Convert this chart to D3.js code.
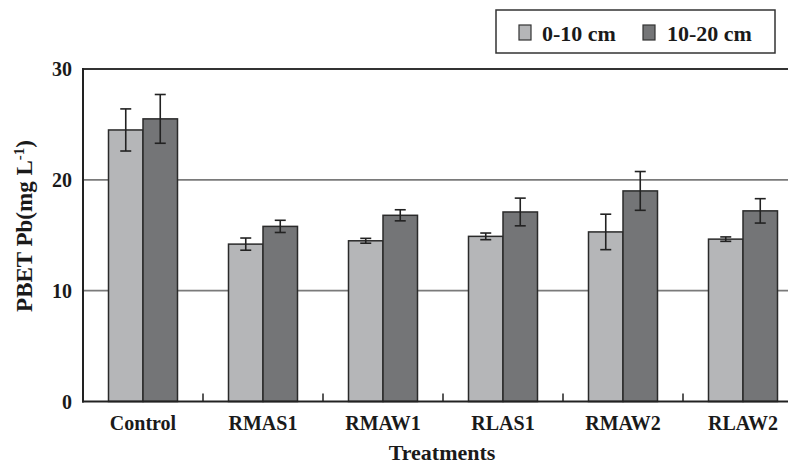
<!DOCTYPE html>
<html>
<head>
<meta charset="utf-8">
<script src="https://cdn.jsdelivr.net/npm/d3@7/dist/d3.min.js"></script>
<style>
  html, body { margin: 0; padding: 0; background: #fff; }
  svg { display: block; }
  text { font-family: "Liberation Serif", "Times New Roman", serif; font-weight: bold; fill: #1a1a1a; }
</style>
</head>
<body>
<svg id="chart" width="788" height="466"></svg>
<script>
const categories = ["Control", "RMAS1", "RMAW1", "RLAS1", "RMAW2", "RLAW2"];
const seriesNames = ["0-10 cm", "10-20 cm"];
const values0to10 = [24.5, 14.2, 14.5, 14.9, 15.3, 14.65];
const errors0to10 = [1.9, 0.55, 0.22, 0.3, 1.6, 0.2];
const values10to20 = [25.5, 15.8, 16.8, 17.1, 19.0, 17.2];
const errors10to20 = [2.2, 0.55, 0.5, 1.25, 1.75, 1.1];
const yTicks = [0, 10, 20, 30];
const colors = ["#b5b6b8", "#747577"];

const svg = d3.select("#chart");
const left = 83, bandW = 120;
const x = d3.scaleBand().domain(categories).range([left, left + bandW * categories.length]).padding(0);
const y = d3.scaleLinear().domain([0, 30]).range([401.5, 69]);
const barW = 34.5;

// gridlines
svg.append("g").selectAll("line").data([10, 20]).join("line")
  .attr("x1", left).attr("x2", 788)
  .attr("y1", d => y(d)).attr("y2", d => y(d))
  .attr("stroke", "#7a7a7a").attr("stroke-width", 1.6);
// top frame line
svg.append("line").attr("x1", left).attr("x2", 788).attr("y1", y(30)).attr("y2", y(30))
  .attr("stroke", "#333").attr("stroke-width", 2);

const series = [
  {vals: values0to10, errs: errors0to10, color: colors[0], off: -barW},
  {vals: values10to20, errs: errors10to20, color: colors[1], off: 0}
];

series.forEach(s => {
  const g = svg.append("g");
  g.selectAll("rect").data(categories).join("rect")
    .attr("x", (c) => x(c) + x.bandwidth() / 2 + s.off)
    .attr("y", (c, i) => y(s.vals[i]))
    .attr("width", barW)
    .attr("height", (c, i) => y(0) - y(s.vals[i]))
    .attr("fill", s.color).attr("stroke", "#2a2a2a").attr("stroke-width", 1.5);
});

series.forEach(s => {
  const g = svg.append("g").attr("stroke", "#222").attr("stroke-width", 1.6);
  categories.forEach((c, i) => {
    const cx = x(c) + x.bandwidth() / 2 + s.off + barW / 2;
    const hi = y(s.vals[i] + s.errs[i]), lo = y(s.vals[i] - s.errs[i]);
    g.append("line").attr("x1", cx).attr("x2", cx).attr("y1", hi).attr("y2", lo);
    g.append("line").attr("x1", cx - 5.5).attr("x2", cx + 5.5).attr("y1", hi).attr("y2", hi);
    g.append("line").attr("x1", cx - 5.5).attr("x2", cx + 5.5).attr("y1", lo).attr("y2", lo);
  });
});

// x axis line with upward boundary ticks
svg.append("line").attr("x1", left - 1).attr("x2", 788).attr("y1", y(0)).attr("y2", y(0))
  .attr("stroke", "#222").attr("stroke-width", 2);
svg.append("g").selectAll("line").data(categories.slice(1)).join("line")
  .attr("x1", d => x(d)).attr("x2", d => x(d))
  .attr("y1", y(0)).attr("y2", y(0) - 8)
  .attr("stroke", "#222").attr("stroke-width", 1.5);

// y axis line
svg.append("line").attr("x1", left).attr("x2", left).attr("y1", y(30) - 1).attr("y2", y(0) + 1)
  .attr("stroke", "#222").attr("stroke-width", 2);

// y tick labels
svg.append("g").selectAll("text").data(yTicks).join("text")
  .attr("x", 72).attr("y", d => y(d)).attr("dy", "0.35em")
  .attr("text-anchor", "end").attr("font-size", 20).text(d => d);

// category labels
svg.append("g").selectAll("text").data(categories).join("text")
  .attr("x", d => x(d) + x.bandwidth() / 2).attr("y", 430)
  .attr("text-anchor", "middle").attr("font-size", 20).text(d => d);

// x title
svg.append("text").attr("x", 442).attr("y", 460).attr("text-anchor", "middle")
  .attr("font-size", 22).text("Treatments");

// y title
const yt = svg.append("text").attr("transform", "translate(32,226) rotate(-90)")
  .attr("text-anchor", "middle").attr("font-size", 23);
yt.append("tspan").text("PBET Pb(mg L");
yt.append("tspan").attr("dy", -8).attr("font-size", 15).text("-1");
yt.append("tspan").attr("dy", 8).text(")");

// legend
const lg = svg.append("g");
lg.append("rect").attr("x", 496).attr("y", 10).attr("width", 279).attr("height", 43)
  .attr("fill", "#fff").attr("stroke", "#333").attr("stroke-width", 1.5);
const legX = [519, 643], legTX = [542, 667];
seriesNames.forEach((n, i) => {
  lg.append("rect").attr("x", legX[i]).attr("y", 25).attr("width", 12).attr("height", 15)
    .attr("fill", colors[i]).attr("stroke", "#333").attr("stroke-width", 1.2);
  lg.append("text").attr("x", legTX[i]).attr("y", 41).attr("font-size", 22).text(n);
});
</script>
</body>
</html>
